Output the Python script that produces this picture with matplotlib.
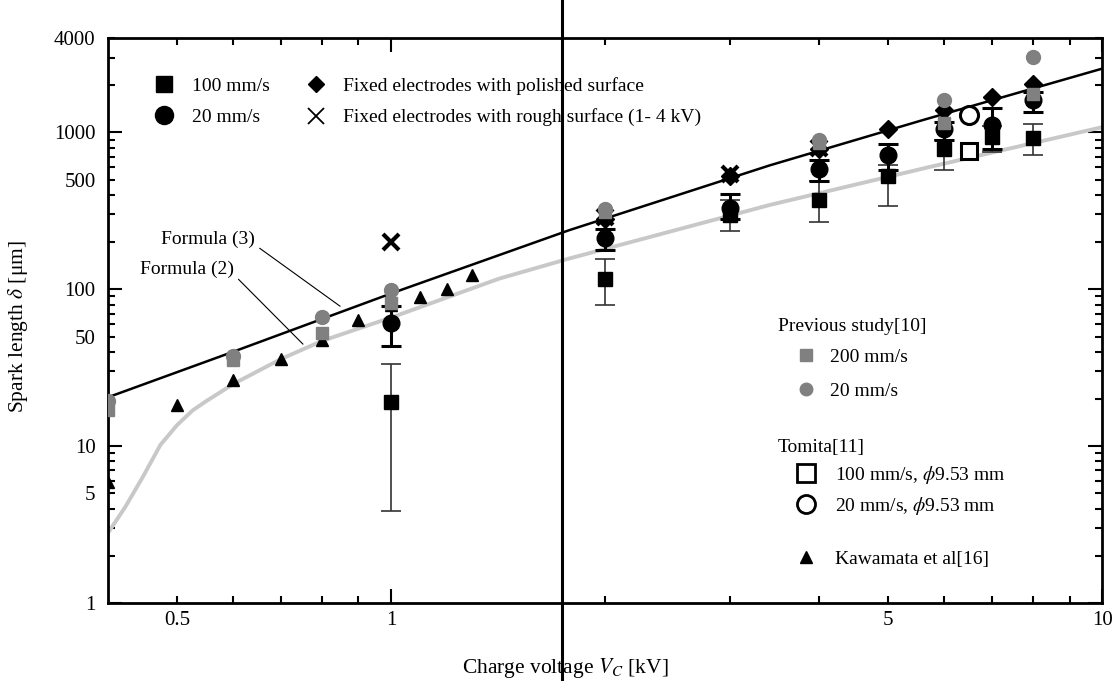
import numpy as np
import matplotlib.pyplot as plt
import matplotlib.transforms as mtransforms
from matplotlib.lines import Line2D
from matplotlib.ticker import FixedLocator, FuncFormatter

plt.rcParams['font.family'] = ['Liberation Serif', 'DejaVu Serif']
plt.rcParams['mathtext.fontset'] = 'stix'

# this study, 100 mm/s (black squares)
v_100 = [1, 2, 3, 4, 5, 6, 7, 8]
d_100 = [19, 117, 296, 373, 525, 787, 934, 925]
d_100_lo = [3.85, 80, 235, 268, 338, 578, 750, 714]
d_100_hi = [33.3, 155, 372, 490, 620, 889, 1100, 1135]

# this study, 20 mm/s (black circles)
v_20 = [1, 2, 3, 4, 5, 6, 7, 8]
d_20 = [61, 213, 331, 587, 714, 1055, 1120, 1600]
d_20_lo = [43.8, 177, 280, 490, 573, 889, 787, 1350]
d_20_hi = [78, 241, 407, 663, 848, 1164, 1430, 1806]

# fixed electrodes
v_pol = [2, 3, 4, 5, 6, 7, 8]
d_pol = [280, 530, 780, 1055, 1380, 1680, 2040]
v_rough = [1, 2, 3, 4]
d_rough = [200, 290, 540, 790]

# previous study [10]
v_prev = [0.4, 0.6, 0.8, 1, 2, 4, 6, 8]
d_prev_200 = [17, 35.4, 52.5, 82, 310, 855, 1146, 1763]
d_prev_20 = [19.4, 37.7, 66.6, 99.6, 326, 889, 1600, 3020]

# Tomita [11]
v_tom = [6.5]
d_tom_100 = [760]
d_tom_20 = [1283]

# Kawamata et al [16]
v_kaw = [0.4, 0.5, 0.6, 0.7, 0.8, 0.9, 1.0, 1.1, 1.2, 1.3]
d_kaw = [5.9, 18.2, 26.3, 36, 47.8, 64, 79, 89, 101, 123]

# Formula (3) and Formula (2)
v_f3 = [0.4, 0.6, 1.0, 1.78, 3.41, 5.6, 10]
d_f3 = [20.5, 40, 94, 238, 617, 1200, 2550]
v_f2 = [0.4, 0.423, 0.448, 0.474, 0.5, 0.526, 0.551, 0.6, 0.7, 0.8, 1.0, 1.42, 1.78, 3.41, 5.7, 10]
d_f2 = [2.8, 4.1, 6.4, 10.2, 13.6, 16.9, 19.5, 24.9, 35.9, 46.9, 66, 117, 157, 345, 600, 1080]

gray = '#808080'

fig = plt.figure(figsize=(11.15, 6.81), dpi=100)
ax = fig.add_axes([0.0969, 0.1145, 0.8915, 0.8297])
ax.set_xscale('log')
ax.set_yscale('log')

ax.plot(v_f2, d_f2, color='#c8c8c8', lw=2.8, zorder=2)
ax.plot(v_f3, d_f3, color='black', lw=1.8, zorder=3)

ax.errorbar(v_100, d_100,
            yerr=[np.subtract(d_100, d_100_lo), np.subtract(d_100_hi, d_100)],
            fmt='s', color='black', ms=10, ecolor='#333333', elinewidth=1.2,
            capsize=7, capthick=1.2, zorder=4)
ax.errorbar(v_20, d_20,
            yerr=[np.subtract(d_20, d_20_lo), np.subtract(d_20_hi, d_20)],
            fmt='o', color='black', ms=12, ecolor='black', elinewidth=2.2,
            capsize=7, capthick=2.2, zorder=5)
ax.plot(v_pol, d_pol, 'D', color='black', ms=9, zorder=6)
ax.plot(v_rough, d_rough, 'x', color='black', ms=11, mew=3, zorder=6)
ax.plot(v_kaw, d_kaw, '^', color='black', ms=8, zorder=6)
ax.plot(v_tom, d_tom_100, 's', mfc='white', mec='black', mew=2.2, ms=12, zorder=6)
ax.plot(v_tom, d_tom_20, 'o', mfc='white', mec='black', mew=2.2, ms=13, zorder=6)
ax.plot(v_prev, d_prev_200, 's', color=gray, ms=8, zorder=7)
ax.plot(v_prev, d_prev_20, 'o', color=gray, ms=10, zorder=8)

ax.set_xlim(0.4, 10)
ax.set_ylim(1, 4000)

# ticks: long at decades, short elsewhere, some short ones labelled
ax.xaxis.set_major_locator(FixedLocator([1, 10]))
ax.xaxis.set_minor_locator(FixedLocator([0.5, 0.6, 0.7, 0.8, 0.9, 2, 3, 4, 5, 6, 7, 8, 9]))
ax.yaxis.set_major_locator(FixedLocator([1, 10, 100, 1000]))
ax.yaxis.set_minor_locator(FixedLocator([2, 3, 4, 5, 6, 7, 8, 9, 20, 30, 40, 50, 60, 70, 80, 90,
                                          200, 300, 400, 500, 600, 700, 800, 900, 2000, 3000, 4000]))
ax.xaxis.set_major_formatter(FuncFormatter(lambda v, p: f'{v:g}'))
ax.yaxis.set_major_formatter(FuncFormatter(lambda v, p: f'{v:g}'))
ax.xaxis.set_minor_formatter(FuncFormatter(lambda v, p: f'{v:g}' if round(v, 3) in (0.5, 5) else ''))
ax.yaxis.set_minor_formatter(FuncFormatter(lambda v, p: f'{v:g}' if round(v) in (5, 50, 500, 4000) else ''))
ax.tick_params(which='both', direction='in', top=True, right=True, width=1.5, labelsize=15)
ax.tick_params(which='major', length=10)
ax.tick_params(which='minor', length=5)
ax.tick_params(axis='x', which='both', pad=6)
ax.tick_params(axis='y', which='both', pad=9)
for s in ax.spines.values():
    s.set_linewidth(2)

fig.text(0.507, 0.019, 'Charge voltage $V_C$ [kV]', ha='center', va='center', fontsize=15.5)
fig.text(0.016, 0.52, 'Spark length $\\delta$ [μm]', ha='center', va='center',
         rotation=90, fontsize=15.5)

ax.annotate('Formula (3)', xy=(0.848, 78), xytext=(0.643, 208), ha='right', va='center',
            fontsize=14, arrowprops=dict(arrowstyle='-', lw=0.8, color='black',
                                         relpos=(1, 0.2), shrinkA=2, shrinkB=0))
ax.annotate('Formula (2)', xy=(0.752, 44.7), xytext=(0.601, 134), ha='right', va='center',
            fontsize=14, arrowprops=dict(arrowstyle='-', lw=0.8, color='black',
                                         relpos=(1, 0.2), shrinkA=2, shrinkB=0))

# legends
h1 = [Line2D([], [], ls='none', marker='s', color='black', ms=12),
      Line2D([], [], ls='none', marker='o', color='black', ms=13),
      Line2D([], [], ls='none', marker='D', color='black', ms=8),
      Line2D([], [], ls='none', marker='x', color='black', ms=11, mew=1.3)]
l1 = ['100 mm/s', '20 mm/s', 'Fixed electrodes with polished surface',
      'Fixed electrodes with rough surface (1- 4 kV)']
leg1 = ax.legend(h1, l1, loc='upper left', bbox_to_anchor=(0.047, 0.931), ncol=2,
                 frameon=False, fontsize=14, handlelength=1.0, handletextpad=0.9,
                 columnspacing=1.9, labelspacing=0.7, borderpad=0, borderaxespad=0)
ax.add_artist(leg1)

ax.text(0.674, 0.490, 'Previous study[10]', transform=ax.transAxes, fontsize=14, va='center')
h2 = [Line2D([], [], ls='none', marker='s', color=gray, ms=8),
      Line2D([], [], ls='none', marker='o', color=gray, ms=9)]
leg2 = ax.legend(h2, ['200 mm/s', '20 mm/s'], loc='upper left', bbox_to_anchor=(0.692, 0.451),
                 frameon=False, fontsize=14, handlelength=1.0, handletextpad=0.74,
                 labelspacing=0.86, borderpad=0, borderaxespad=0)
ax.add_artist(leg2)

ax.text(0.674, 0.276, 'Tomita[11]', transform=ax.transAxes, fontsize=14, va='center')
h3 = [Line2D([], [], ls='none', marker='s', mfc='white', mec='black', mew=2, ms=13),
      Line2D([], [], ls='none', marker='o', mfc='white', mec='black', mew=2, ms=13)]
leg3 = ax.legend(h3, ['100 mm/s, $\\phi$9.53 mm', '20 mm/s, $\\phi$9.53 mm'], loc='upper left',
                 bbox_to_anchor=(0.692, 0.246), frameon=False, fontsize=14, handlelength=1.0,
                 handletextpad=0.99, labelspacing=0.45, borderpad=0, borderaxespad=0)
ax.add_artist(leg3)

h4 = [Line2D([], [], ls='none', marker='^', color='black', ms=8)]
ax.legend(h4, ['Kawamata et al[16]'], loc='upper left', bbox_to_anchor=(0.692, 0.094),
          frameon=False, fontsize=14, handlelength=1.0, handletextpad=0.99,
          borderpad=0, borderaxespad=0)

# vertical rule crossing the whole figure
trans = mtransforms.blended_transform_factory(ax.transData, fig.transFigure)
ax.plot([1.74, 1.74], [0, 1], transform=trans, color='black', lw=2.2, clip_on=False, zorder=10)

fig.savefig('out.png', dpi=100)
